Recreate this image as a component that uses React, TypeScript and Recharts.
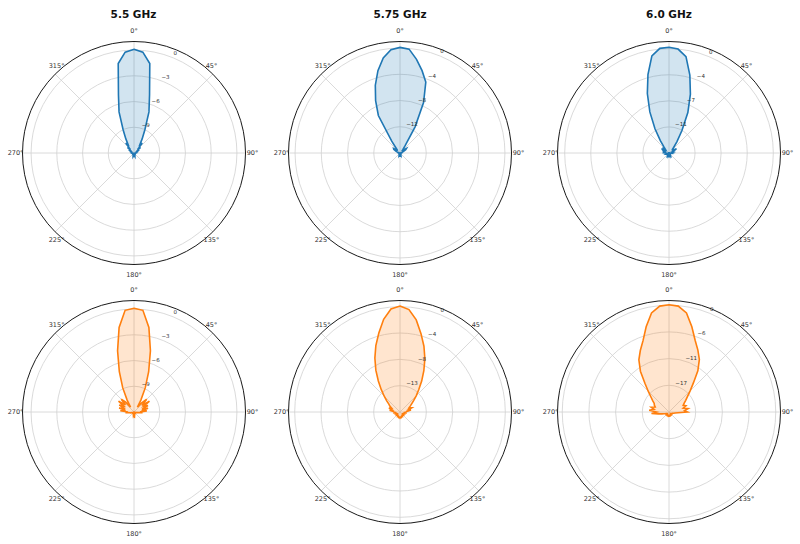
import React from 'react';
import { RadarChart, Radar, PolarGrid, PolarAngleAxis, PolarRadiusAxis } from 'recharts';

// Angles (degrees, clockwise from north)
const ANGLES = [
  0, 5, 10, 15, 20, 25, 30, 35, 40, 45, 50, 55, 60, 65, 70, 75, 80, 85,
  90, 95, 100, 105, 110, 115, 120, 125, 130, 135, 140, 145, 150, 155, 160, 165, 170, 175,
  180, 185, 190, 195, 200, 205, 210, 215, 220, 225, 230, 235, 240, 245, 250, 255, 260, 265,
  270, 275, 280, 285, 290, 295, 300, 305, 310, 315, 320, 325, 330, 335, 340, 345, 350, 355,
];

const THETA_TICKS = [0, 45, 90, 135, 180, 225, 270, 315];
const TITLES = ['5.5 GHz', '5.75 GHz', '6.0 GHz'];

// Normalized gain (dB) – top row (blue)
const GAIN_55_TOP = [
  0.1, -0.2, -1.4, -5.0, -6.9, -9.0, -10.1, -10.8, -10.5, -11.4, -11.0, -11.6, -11.3, -11.7, -11.5, -11.8, -11.6, -11.8,
  -11.7, -11.8, -11.9, -11.8, -11.9, -11.8, -11.9, -11.8, -11.9, -11.8, -11.9, -11.8, -11.7, -11.8, -11.7, -11.6, -11.7, -11.6,
  -11.6, -11.6, -11.7, -11.6, -11.7, -11.8, -11.7, -11.8, -11.9, -11.8, -11.9, -11.8, -11.9, -11.8, -11.9, -11.8, -11.8, -11.7,
  -11.7, -11.8, -11.6, -11.8, -11.5, -11.7, -11.3, -11.6, -11.0, -11.4, -10.5, -10.8, -10.1, -9.0, -6.9, -5.0, -1.4, -0.2,
];
const GAIN_575_TOP = [
  0.1, -0.1, -1.5, -3.0, -4.5, -7.5, -11.4, -14.6, -15.3, -15.6, -15.2, -14.8, -15.0, -15.4, -15.6, -15.7, -15.6, -15.8,
  -15.8, -15.9, -15.8, -15.9, -15.8, -15.9, -15.8, -15.9, -15.8, -15.9, -15.8, -15.7, -15.8, -15.7, -15.6, -15.7, -15.6, -15.5,
  -15.5, -15.5, -15.6, -15.7, -15.6, -15.7, -15.8, -15.7, -15.8, -15.9, -15.8, -15.9, -15.8, -15.9, -15.8, -15.9, -15.8, -15.8,
  -15.7, -15.8, -15.6, -15.7, -15.5, -15.3, -14.9, -14.8, -15.2, -15.5, -15.2, -13.8, -9.4, -7.2, -5.0, -3.0, -1.3, -0.2,
];
const GAIN_60_TOP = [
  0.2, 0.0, -0.9, -3.3, -5.8, -8.3, -10.9, -12.6, -13.5, -13.9, -13.6, -13.8, -13.3, -13.7, -13.8, -14.0, -13.9, -14.1,
  -14.0, -14.2, -14.1, -14.2, -14.3, -14.2, -14.3, -14.2, -14.3, -14.2, -14.3, -14.2, -14.1, -14.2, -14.1, -14.0, -14.1, -14.0,
  -14.0, -14.0, -14.1, -14.0, -14.1, -14.2, -14.1, -14.2, -14.3, -14.2, -14.3, -14.2, -14.3, -14.2, -14.1, -14.2, -14.0, -14.1,
  -13.9, -14.0, -13.8, -13.9, -13.7, -13.8, -13.3, -13.8, -13.6, -13.8, -13.4, -12.4, -10.6, -8.2, -5.7, -3.2, -0.8, 0.1,
];

// Normalized gain (dB) – bottom row (orange)
const GAIN_55_BOTTOM = [
  0.1, -0.1, -2.0, -4.6, -7.0, -8.9, -10.4, -11.3, -10.6, -9.9, -10.8, -9.8, -10.7, -10.2, -11.0, -10.3, -11.1, -10.5,
  -11.3, -11.0, -11.6, -11.7, -11.8, -11.7, -11.8, -11.9, -11.8, -11.9, -11.8, -11.9, -11.8, -11.7, -11.8, -11.7, -11.6, -11.7,
  -11.6, -11.7, -11.6, -11.7, -11.8, -11.7, -11.8, -11.9, -11.8, -11.9, -11.8, -11.9, -11.8, -11.7, -11.8, -11.6, -11.5, -11.0,
  -11.3, -10.4, -11.0, -10.2, -10.9, -10.1, -10.6, -9.8, -10.7, -9.9, -10.5, -11.3, -10.4, -8.9, -7.0, -4.6, -2.0, -0.1,
];
const GAIN_575_BOTTOM = [
  0.1, -0.4, -1.9, -3.9, -5.7, -7.5, -9.3, -10.9, -12.3, -13.3, -14.1, -14.7, -15.1, -15.4, -15.0, -15.6, -15.2, -15.9,
  -16.0, -16.2, -16.1, -16.3, -16.2, -16.3, -16.4, -16.3, -16.4, -16.3, -16.4, -16.3, -16.2, -16.3, -16.2, -16.1, -16.2, -16.1,
  -16.0, -16.1, -16.2, -16.1, -16.2, -16.3, -16.2, -16.3, -16.4, -16.3, -16.4, -16.3, -16.4, -16.3, -16.2, -16.3, -16.1, -16.2,
  -16.0, -15.9, -15.3, -15.7, -15.1, -15.5, -15.1, -14.8, -14.2, -13.4, -12.3, -10.9, -9.2, -7.4, -5.6, -3.8, -1.8, -0.3,
];
const GAIN_60_BOTTOM = [
  0.1, -0.1, -1.3, -3.9, -6.4, -8.1, -9.7, -11.9, -14.5, -16.2, -17.4, -18.2, -18.8, -19.2, -18.7, -19.4, -18.4, -19.2,
  -18.6, -20.6, -21.2, -21.5, -21.7, -21.8, -21.9, -21.8, -21.9, -22.0, -21.9, -21.8, -21.9, -21.8, -21.7, -21.8, -21.7, -21.6,
  -21.6, -21.7, -21.6, -21.7, -21.8, -21.7, -21.8, -21.9, -21.8, -21.9, -21.8, -21.9, -21.8, -21.6, -21.4, -21.0, -20.2, -18.8,
  -19.9, -18.3, -19.3, -18.6, -19.4, -19.1, -18.9, -18.3, -17.5, -16.3, -14.6, -12.0, -9.8, -8.2, -6.5, -3.9, -1.3, -0.1,
];

// Radial limits and tick values per panel
const RMIN = [-12, -16, -14.5, -12, -17, -22.5];
const RMAX = 1;
const RTICKS_55_TOP = [-9, -6, -3, 0];
const RTICKS_575_TOP = [-12, -8, -4, 0];
const RTICKS_60_TOP = [-10.875, -7.25, -3.625, 0];
const RTICKS_55_BOTTOM = [-9, -6, -3, 0];
const RTICKS_575_BOTTOM = [-12.75, -8.5, -4.25, 0];
const RTICKS_60_BOTTOM = [-16.875, -11.25, -5.625, 0];

const BLUE = '#1f77b4';
const ORANGE = '#ff7f0e';
const SIZE = 270;
const R = 111.5;
const C = SIZE / 2;
const FONT = 'DejaVu Sans, sans-serif';

const COL_X = [133.5, 400, 669];
const ROW_Y = [153, 412];

const AngleTick = (props: any) => {
  const v = Number(props.payload?.value ?? 0);
  const a = (v * Math.PI) / 180;
  const diag = v % 90 !== 0;
  const dx = Math.sin(a) * (R + (diag ? -2 : 7));
  const dy = -Math.cos(a) * (R + (diag ? 11 : 10.5));
  return (
    <text x={C + dx} y={C + dy} textAnchor="middle" dominantBaseline="central" fontSize={6.5} fill="#333" fontFamily={FONT}>
      {`${v}°`}
    </text>
  );
};

const RadiusTick = (props: any) => {
  const v = Math.round(Number(props.payload?.value ?? 0));
  const label = v < 0 ? '\u2212' + Math.abs(v) : '0';
  return (
    <text x={props.x + 1.9} y={props.y - 4.6} textAnchor="middle" dominantBaseline="central" fontSize={5.5} fill="#333" fontFamily={FONT}>
      {label}
    </text>
  );
};

type PanelProps = { values: number[]; color: string; rmin: number; ticks: number[]; cx: number; cy: number };

function PolarPanel({ values, color, rmin, ticks, cx, cy }: PanelProps) {
  const data = ANGLES.map((a, i) => ({ angle: a, value: values[i] }));
  return (
    <div style={{ position: 'absolute', left: cx - C, top: cy - C, width: SIZE, height: SIZE }}>
      <RadarChart
        width={SIZE}
        height={SIZE}
        data={data}
        cx={C}
        cy={C}
        outerRadius={R}
        startAngle={90}
        endAngle={-270}
        margin={{ top: 0, right: 0, bottom: 0, left: 0 }}
      >
        <PolarGrid gridType="circle" stroke="#d0d0d0" strokeWidth={0.8} />
        <PolarAngleAxis
          dataKey="angle"
          type="number"
          domain={[0, 360]}
          ticks={THETA_TICKS}
          axisLineType="circle"
          axisLine={{ stroke: '#1a1a1a', strokeWidth: 1 }}
          tickLine={false}
          tick={<AngleTick />}
        />
        <PolarRadiusAxis
          angle={67.5}
          type="number"
          domain={[rmin, RMAX]}
          ticks={ticks}
          allowDataOverflow
          axisLine={false}
          tickLine={false}
          tick={<RadiusTick />}
        />
        <Radar
          dataKey="value"
          stroke={color}
          strokeWidth={1.6}
          fill={color}
          fillOpacity={0.2}
          dot={false}
          isAnimationActive={false}
        />
      </RadarChart>
    </div>
  );
}

export default function App() {
  const panels = [
    { values: GAIN_55_TOP, color: BLUE, rmin: RMIN[0], ticks: RTICKS_55_TOP, cx: COL_X[0], cy: ROW_Y[0] },
    { values: GAIN_575_TOP, color: BLUE, rmin: RMIN[1], ticks: RTICKS_575_TOP, cx: COL_X[1], cy: ROW_Y[0] },
    { values: GAIN_60_TOP, color: BLUE, rmin: RMIN[2], ticks: RTICKS_60_TOP, cx: COL_X[2], cy: ROW_Y[0] },
    { values: GAIN_55_BOTTOM, color: ORANGE, rmin: RMIN[3], ticks: RTICKS_55_BOTTOM, cx: COL_X[0], cy: ROW_Y[1] },
    { values: GAIN_575_BOTTOM, color: ORANGE, rmin: RMIN[4], ticks: RTICKS_575_BOTTOM, cx: COL_X[1], cy: ROW_Y[1] },
    { values: GAIN_60_BOTTOM, color: ORANGE, rmin: RMIN[5], ticks: RTICKS_60_BOTTOM, cx: COL_X[2], cy: ROW_Y[1] },
  ];
  return (
    <div style={{ position: 'absolute', left: 0, top: 0, width: 800, height: 544, background: '#fff', fontFamily: FONT, overflow: 'hidden' }}>
      {TITLES.map((t, i) => (
        <div
          key={t}
          style={{
            position: 'absolute',
            left: COL_X[i] - 60,
            width: 120,
            top: 6,
            lineHeight: '16px',
            textAlign: 'center',
            fontWeight: 'bold',
            fontSize: 10.5,
            color: '#111',
          }}
        >
          {t}
        </div>
      ))}
      {panels.map((p, i) => (
        <PolarPanel key={i} {...p} />
      ))}
    </div>
  );
}
